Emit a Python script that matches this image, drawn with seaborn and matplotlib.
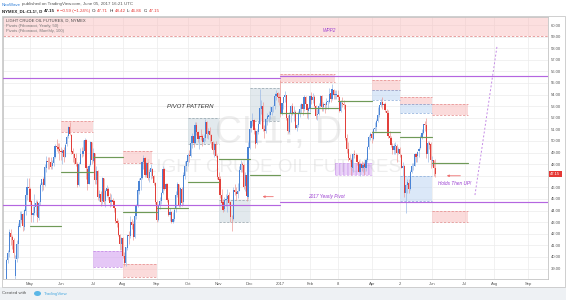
import numpy as np
import pandas as pd
import matplotlib
matplotlib.use("Agg")
import matplotlib.pyplot as plt
import matplotlib.transforms as mtransforms
from matplotlib.patches import Rectangle, Ellipse
import seaborn as sns

# ------------------------------------------------------------------ data
holidays = ["2016-05-30", "2016-07-04", "2016-09-05", "2016-11-24", "2016-12-26",
            "2017-01-02", "2017-01-16", "2017-02-20", "2017-04-14", "2017-05-29",
            "2017-07-04", "2017-09-04"]
first_day = "2016-04-04"
last_axis_day = "2017-09-29"

opens = [
    36.8, 35.6, 35.9, 37.7, 37.3, 39.7, 40.4, 42.1, 41.7, 41.5, 38.4, 39.8, 41.1, 42.6, 43.2, 43.7, 42.6, 44.0, 45.3, 46.0,
    45.9, 44.8, 43.6, 43.8, 44.3, 44.7, 43.4, 44.7, 46.2, 46.7, 46.2, 47.7, 48.3, 48.2, 48.2, 47.8, 48.1, 48.6, 49.6, 49.5, 49.3,
    49.1, 49.0, 49.2, 48.6, 49.7, 50.4, 51.2, 50.5, 49.1, 48.9, 48.5, 48.0, 46.2, 48.0, 48.9, 48.9, 49.1, 50.1, 47.6, 46.3, 47.9, 49.9,
    48.3, 49.0, 46.6, 47.4, 45.1, 45.4, 44.8, 46.8, 44.8, 45.7, 45.9, 45.2, 44.7, 44.9, 44.8, 44.2, 43.1, 42.9, 41.9, 41.1,
    41.6, 40.1, 39.5, 40.8, 41.9, 41.8, 43.0, 42.8, 41.7, 43.5, 44.5, 45.7, 46.6, 46.8, 48.2, 48.5, 47.1, 48.1, 46.8, 47.3, 47.6, 47.0, 46.4,
    44.7, 43.2, 44.4, 44.8, 45.5, 47.6, 45.9, 46.3, 44.9, 43.6, 43.9, 43.0, 43.3, 44.1, 45.3, 46.3, 44.5, 45.9, 44.7, 47.0, 47.8,
    48.2, 48.8, 48.7, 49.8, 50.4, 49.8, 51.4, 50.8, 50.2, 50.4, 50.4, 49.9, 50.3, 51.6, 50.6, 50.9, 50.5, 49.9, 49.2, 49.7, 48.7,
    46.9, 46.7, 45.3, 44.7, 44.1, 44.9, 45.0, 45.3, 44.7, 43.4, 43.3, 45.8, 45.6, 45.4, 45.7, 47.5, 48.0, 47.9, 46.1, 47.1, 45.2,
    49.4, 51.1, 51.7, 51.8, 50.9, 49.8, 50.8, 51.5, 52.8, 53.0, 51.0, 50.9, 51.9, 52.1, 52.2, 52.5, 53.0, 53.0, 53.9, 54.1, 53.8,
    53.8, 52.3, 53.3, 53.8, 54.0, 52.0, 50.8, 52.3, 53.0, 52.4, 52.5, 51.1, 51.4, 52.4, 52.8, 53.2, 52.8, 53.8, 53.2, 52.6,
    52.8, 53.9, 53.5, 53.8, 53.0, 52.2, 52.3, 53.0, 53.9, 52.9, 53.2, 53.1, 53.4, 53.4, 54.1, 53.6, 54.4, 54.0, 54.0,
    54.0, 53.8, 52.6, 53.3, 53.2, 53.1, 50.3, 49.3, 48.5, 48.4, 47.7, 48.9, 48.8, 48.8, 48.2, 47.3, 48.0, 47.7, 48.0, 47.7, 48.4, 49.5, 50.4,
    50.6, 50.2, 51.0, 51.2, 51.7, 52.2, 53.1, 53.4, 53.1, 53.2, 52.6, 52.4, 50.4, 50.3, 49.6, 49.2, 49.6, 49.6, 49.0,
    49.3, 48.8, 47.7, 47.8, 45.5, 46.2, 46.4, 45.9, 47.3, 47.8, 47.8, 48.9, 48.7, 49.1, 49.4, 50.3, 50.7, 51.5, 51.4, 48.9, 49.8, 49.7,
    48.3, 48.4, 47.71]
highs = [
    36.9, 36.3, 37.9, 38.1, 39.8, 40.6, 42.4, 42.4, 41.9, 41.6, 40.2, 41.5, 42.9, 44.0, 44.0, 43.8, 44.1, 45.5, 46.8, 46.8,
    46.0, 44.9, 44.4, 45.4, 44.9, 44.9, 44.8, 46.4, 46.5, 46.9, 48.0, 48.7, 48.6, 48.6, 48.6, 48.4, 48.8, 49.7, 50.2, 49.8, 49.8,
    49.5, 49.3, 49.5, 49.8, 50.5, 51.3, 51.67, 50.6, 49.4, 49.0, 49.0, 48.2, 48.2, 49.4, 49.5, 50.1, 50.3, 50.2, 47.8, 48.0, 50.0, 49.9,
    49.4, 49.0, 47.8, 47.5, 45.8, 45.7, 46.9, 46.8, 45.9, 46.2, 46.0, 45.5, 45.4, 45.1, 44.9, 44.2, 43.4, 43.2, 42.0, 41.7,
    41.7, 40.4, 40.9, 41.9, 42.2, 43.5, 43.3, 43.1, 43.6, 44.6, 45.9, 46.8, 47.0, 48.3, 48.75, 48.6, 48.2, 48.2, 47.6, 48.0, 47.7, 47.1, 46.5,
    44.9, 44.6, 45.2, 45.6, 47.8, 47.7, 46.4, 46.4, 45.1, 44.2, 44.0, 43.9, 44.2, 45.7, 46.5, 46.3, 46.0, 46.0, 47.3, 48.3, 48.3,
    49.0, 49.2, 49.9, 50.7, 50.7, 51.6, 51.6, 50.9, 50.5, 51.0, 50.6, 50.6, 51.9, 51.7, 51.1, 51.2, 50.6, 50.0, 49.9, 50.0, 48.9,
    47.3, 47.0, 45.9, 45.0, 45.2, 45.4, 45.9, 45.6, 44.8, 43.6, 46.0, 46.3, 46.0, 46.4, 47.8, 48.4, 48.2, 48.0, 47.3, 47.1, 49.9,
    51.5, 51.7, 52.4, 51.9, 51.1, 51.0, 51.7, 54.51, 53.5, 53.4, 51.4, 52.0, 52.4, 52.6, 53.0, 53.0, 53.1, 54.1, 54.4, 54.2, 54.1,
    55.24, 53.3, 53.8, 54.3, 54.0, 52.2, 52.5, 53.1, 53.3, 53.0, 52.7, 51.5, 52.6, 53.2, 53.3, 53.4, 54.0, 53.9, 53.2, 52.9,
    54.0, 54.2, 54.1, 54.0, 53.1, 52.8, 53.3, 54.0, 54.0, 53.4, 53.3, 53.7, 53.5, 54.6, 54.5, 54.9, 54.5, 54.4, 54.4,
    54.4, 53.9, 53.5, 53.8, 53.5, 53.2, 50.6, 49.9, 48.9, 48.5, 49.0, 49.2, 49.0, 48.9, 48.4, 48.0, 48.3, 48.2, 48.2, 48.5, 49.6, 50.5, 50.8,
    50.9, 51.1, 51.6, 51.9, 52.9, 53.1, 53.6, 53.76, 53.3, 53.4, 52.8, 52.7, 50.9, 50.4, 49.8, 49.8, 49.9, 49.7, 49.5,
    49.5, 48.9, 48.2, 47.9, 46.3, 46.7, 46.7, 47.5, 48.1, 48.1, 49.0, 49.0, 49.1, 49.5, 50.5, 51.0, 51.3, 51.7, 52.0, 50.0, 50.0, 49.9,
    48.7, 48.4, 48.42]
lows = [
    35.2, 35.2, 35.6, 36.9, 37.2, 39.5, 40.0, 41.0, 40.7, 39.9, 37.6, 39.6, 39.9, 42.6, 42.9, 42.2, 42.3, 43.6, 44.9, 45.6,
    44.5, 43.0, 43.0, 43.6, 43.6, 43.0, 43.2, 44.5, 45.7, 45.8, 46.1, 47.3, 47.6, 47.6, 47.6, 47.6, 47.8, 48.5, 49.1, 49.0, 48.4,
    48.4, 48.0, 48.2, 48.6, 49.6, 50.3, 50.5, 48.9, 48.2, 48.0, 47.8, 46.0, 46.1, 48.0, 48.6, 48.7, 48.9, 46.7, 45.8, 46.3, 47.8, 48.0,
    48.2, 46.3, 46.3, 44.9, 44.8, 44.4, 44.6, 44.6, 44.3, 45.2, 44.9, 44.3, 44.4, 44.3, 43.9, 42.9, 42.6, 41.8, 40.6, 40.6,
    39.9, 39.2, 39.2, 40.6, 41.1, 41.6, 42.4, 41.5, 41.6, 43.3, 44.3, 45.4, 45.8, 46.7, 47.6, 46.9, 46.9, 46.6, 46.5, 46.7, 46.8, 46.2, 44.6,
    43.0, 43.1, 44.1, 44.6, 45.4, 45.8, 45.0, 44.7, 43.5, 43.1, 42.9, 42.9, 43.1, 43.9, 45.2, 44.3, 44.3, 44.4, 44.5, 46.7, 47.4,
    47.8, 48.2, 48.6, 49.4, 49.5, 49.7, 50.5, 49.9, 49.3, 50.1, 49.6, 49.8, 50.0, 50.3, 50.2, 49.9, 49.4, 48.9, 48.6, 48.6, 46.7,
    46.3, 45.1, 44.5, 43.9, 44.0, 44.4, 43.9, 44.5, 43.0, 42.2, 43.2, 45.3, 44.9, 45.1, 45.7, 47.3, 47.3, 45.9, 45.7, 44.8, 45.0,
    49.3, 50.8, 51.3, 50.6, 49.4, 49.7, 50.6, 51.5, 52.3, 50.9, 50.3, 50.7, 51.4, 51.6, 51.9, 52.2, 52.5, 52.8, 53.5, 53.4, 53.1,
    52.1, 52.2, 52.8, 53.4, 51.8, 50.7, 50.7, 51.6, 52.2, 51.7, 51.0, 50.9, 51.2, 52.1, 52.4, 52.2, 52.6, 52.9, 52.0, 51.9,
    52.5, 53.2, 53.3, 52.9, 51.9, 51.8, 52.2, 52.9, 52.6, 52.6, 52.4, 52.8, 52.8, 53.3, 53.4, 53.5, 53.6, 53.6, 53.6,
    53.5, 52.5, 52.5, 52.9, 52.8, 50.1, 49.0, 48.3, 48.2, 47.1, 47.3, 48.5, 48.4, 47.9, 47.3, 47.0, 47.4, 47.3, 47.1, 47.4, 48.2, 49.3, 50.1,
    49.8, 50.1, 50.9, 50.9, 51.6, 52.1, 52.9, 52.8, 52.8, 52.5, 52.2, 50.3, 50.0, 49.5, 48.9, 48.9, 48.9, 48.2, 48.9,
    48.6, 47.7, 47.0, 45.2, 43.76, 45.5, 45.5, 45.8, 47.2, 47.5, 47.8, 48.2, 48.2, 48.6, 49.3, 50.2, 50.6, 50.9, 48.5, 48.2, 49.3, 47.7,
    47.8, 47.0, 46.86]
closes = [
    35.7, 35.9, 37.75, 37.26, 39.72, 40.36, 42.17, 41.76, 41.50, 40.36, 39.78, 41.08, 42.63, 43.18, 43.73, 42.64, 44.04, 45.33, 46.03, 45.92,
    44.78, 43.65, 43.78, 44.32, 44.66, 43.44, 44.66, 46.23, 46.70, 46.21, 47.72, 48.31, 48.19, 48.16, 47.75, 48.08, 48.62, 49.56, 49.48, 49.33, 49.10,
    49.01, 49.17, 48.62, 49.69, 50.36, 51.23, 50.56, 49.07, 48.88, 48.49, 48.01, 46.21, 47.98, 48.89, 48.85, 49.13, 50.11, 47.64, 46.33, 47.85, 49.88, 48.33,
    48.99, 46.60, 47.43, 45.14, 45.41, 44.76, 46.80, 44.75, 45.68, 45.95, 45.24, 44.65, 44.94, 44.75, 44.19, 43.13, 42.92, 41.92, 41.14, 41.60,
    40.06, 39.51, 40.83, 41.93, 41.80, 43.02, 42.77, 41.71, 43.49, 44.49, 45.74, 46.58, 46.79, 48.22, 48.52, 47.05, 48.10, 46.77, 47.33, 47.64, 46.98, 46.35, 44.70,
    43.16, 44.44, 44.83, 45.50, 47.62, 45.88, 46.29, 44.90, 43.58, 43.91, 43.03, 43.30, 44.05, 45.34, 46.32, 44.48, 45.93, 44.67, 47.05, 47.83, 48.24,
    48.81, 48.69, 49.83, 50.44, 49.81, 51.35, 50.79, 50.18, 50.44, 50.35, 49.94, 50.29, 51.60, 50.63, 50.85, 50.52, 49.96, 49.18, 49.72, 48.70, 46.86,
    46.67, 45.34, 44.66, 44.07, 44.89, 44.98, 45.27, 44.66, 43.41, 43.32, 45.81, 45.57, 45.42, 45.69, 47.49, 48.03, 47.96, 46.06, 47.08, 45.23, 49.44,
    51.06, 51.68, 51.79, 50.93, 49.77, 50.84, 51.50, 52.83, 52.98, 51.04, 50.90, 51.90, 52.12, 52.23, 52.49, 52.95, 53.02, 53.90, 54.06, 53.77, 53.72,
    52.33, 53.26, 53.76, 53.99, 51.96, 50.82, 52.25, 53.01, 52.37, 52.48, 51.08, 51.37, 52.42, 52.75, 53.18, 52.75, 53.78, 53.17, 52.63, 52.81,
    53.88, 53.54, 53.83, 53.01, 52.17, 52.34, 53.00, 53.86, 52.93, 53.20, 53.11, 53.36, 53.40, 54.06, 53.59, 54.45, 53.99, 54.05, 54.01,
    53.83, 52.61, 53.33, 53.20, 53.14, 50.28, 49.28, 48.49, 48.40, 47.72, 48.86, 48.75, 48.78, 48.22, 47.34, 48.04, 47.70, 47.97, 47.73, 48.37, 49.51, 50.35, 50.60,
    50.24, 51.03, 51.15, 51.70, 52.24, 53.08, 53.40, 53.11, 53.18, 52.65, 52.41, 50.44, 50.27, 49.62, 49.23, 49.56, 49.62, 48.97, 49.33,
    48.84, 47.66, 47.82, 45.52, 46.22, 46.43, 45.88, 47.33, 47.83, 47.84, 48.85, 48.66, 49.07, 49.35, 50.33, 50.73, 51.47, 51.36, 48.90, 49.80, 49.66, 48.32,
    48.36, 47.66, 47.15]

# monthly Fibonacci pivot (P) levels
pivot_starts = ["2016-05-01", "2016-06-01", "2016-07-01", "2016-08-01", "2016-09-01", "2016-10-01", "2016-11-01",
                "2016-12-01", "2017-01-01", "2017-02-01", "2017-03-01", "2017-04-01", "2017-05-01", "2017-06-01"]
pivot_ends = ["2016-06-01", "2016-07-01", "2016-08-01", "2016-09-01", "2016-10-01", "2016-11-01", "2016-12-01",
              "2017-01-01", "2017-02-01", "2017-03-01", "2017-04-01", "2017-05-01", "2017-06-01", "2017-07-06"]
pivot_levels = [42.65, 47.35, 48.6, 43.85, 44.2, 46.45, 48.45, 47.05, 52.45, 52.85, 53.45, 50.75, 50.35, 48.1]

# yearly Fibonacci pivots (P and R1)
year_starts = ["2016-04-01", "2017-01-01"]
year_ends = ["2017-01-01", "2017-09-30"]
year_p = [44.5, 44.77]
year_r1 = [55.43, 55.63]

# drawn zones
box_start = ["2016-06-01", "2016-07-01", "2016-08-01", "2016-08-01", "2016-10-01", "2016-11-01", "2016-12-01",
             "2017-01-01", "2017-02-27", "2017-04-01", "2017-04-01", "2017-05-01", "2017-05-01", "2017-05-01",
             "2017-06-01", "2017-06-01"]
box_end = ["2016-07-01", "2016-08-01", "2016-08-29", "2016-09-01", "2016-11-01", "2016-12-01", "2017-01-01",
           "2017-02-27", "2017-04-01", "2017-05-01", "2017-05-01", "2017-06-01", "2017-06-01", "2017-06-01",
           "2017-07-06", "2017-07-06"]
box_low = [50.8, 39.1, 48.1, 38.3, 49.7, 43.0, 51.7, 55.1, 47.1, 54.4, 53.5, 53.2, 52.4, 44.8, 52.2, 43.0]
box_high = [51.7, 40.5, 49.1, 39.4, 52.0, 44.9, 54.6, 55.8, 48.1, 55.3, 54.4, 53.8, 53.2, 47.0, 53.2, 44.0]
box_kind = ["pink", "purple", "pink", "pink", "gray", "gray", "gray", "pink", "hatch", "pink", "blue",
            "pink", "blue", "blue", "pink", "pink"]
top_zone_low = 59.05

month_labels = ["May", "Jun", "Jul", "Aug", "Sep", "Oct", "Nov", "Dec", "2017", "Feb", "8", "Apr", "2",
                "Jun", "Jul", "Aug", "Sep"]
month_firsts = ["2016-05-01", "2016-06-01", "2016-07-01", "2016-08-01", "2016-09-01", "2016-10-01", "2016-11-01",
                "2016-12-01", "2017-01-01", "2017-02-01", "2017-03-01", "2017-04-01", "2017-05-01", "2017-06-01",
                "2017-07-01", "2017-08-01", "2017-09-01"]
price_ticks = list(range(39, 61))
last_price = 47.15

# ------------------------------------------------------------------ style
sns.set_theme(style="white")
plt.rcParams["font.family"] = ["Liberation Sans", "DejaVu Sans"]

UP, DOWN = "#4a84d6", "#e2403b"
UPW, DNW = "#9dbbe6", "#ee9a96"
GREEN = "#6f9a58"
PURPLE = "#b466e0"
GRID = "#ececec"

W, H = 566, 300
fig = plt.figure(figsize=(W / 100, H / 100), dpi=100)
fig.patch.set_facecolor("white")
ax = fig.add_axes([3 / W, 1 - 279 / H, 545 / W, 262 / H])
ax.set_facecolor("white")

cal = pd.bdate_range(first_day, last_axis_day, freq="C", holidays=holidays)


def idx(d):
    return int(cal.searchsorted(pd.Timestamp(d)))


n = len(closes)
x = np.arange(n)
i_may = idx("2016-05-02")
i_sep = idx("2017-09-01")
s = (528 - 30) / (i_sep - i_may)
ax.set_xlim(i_may - 27 / s, i_may + 518 / s)
ax.set_ylim(38.10, 60.69)

# grid
tick_idx = [idx(m) for m in month_firsts]
for t in tick_idx:
    ax.axvline(t, color=GRID, lw=0.5, zorder=0)
for p in price_ticks:
    ax.axhline(p, color=GRID, lw=0.5, zorder=0)

# top zone
ax.axhspan(top_zone_low, 61, color="#f9b9b9", alpha=0.45, lw=0, zorder=1)
ax.axhline(top_zone_low, color="#e58f8f", lw=0.6, ls=(0, (3, 2)), zorder=1.5)

# boxes
fills = {"pink": ("#f9b9b9", 0.5, "#e58f8f"), "blue": ("#b9d2f2", 0.5, "#8fb0dc"),
         "gray": ("#bfd0d8", 0.45, "#9aa8b0"), "purple": ("#d4a3f0", 0.6, "#c48ae6"),
         "hatch": ("#ead3f8", 0.8, "#d7aef0")}
for b0, b1, lo, hi, k in zip(box_start, box_end, box_low, box_high, box_kind):
    x0, x1 = idx(b0), idx(b1)
    fc, al, ec = fills[k]
    if k == "hatch":
        r = Rectangle((x0, lo), x1 - x0, hi - lo, facecolor=fc, edgecolor=ec, hatch="||||", lw=0, zorder=1)
        ax.add_patch(r)
    else:
        ax.fill_between([x0, x1], [lo, lo], [hi, hi], color=fc, alpha=al, lw=0, zorder=1)
    ax.hlines([lo, hi], x0, x1, colors=ec, lw=0.55, linestyles=(0, (3, 2)), zorder=1.5)

# candles
o, h, l, c = map(np.array, (opens, highs, lows, closes))
up = c >= o
ax.vlines(x, l, h, colors=np.where(up, UPW, DNW), lw=0.5, zorder=3)
ax.bar(x, np.maximum(np.abs(c - o), 0.05), bottom=np.minimum(o, c), width=0.8,
       color=np.where(up, UP, DOWN), lw=0, zorder=4)

# monthly pivots (seaborn)
rows = []
for k, (a, b, lev) in enumerate(zip(pivot_starts, pivot_ends, pivot_levels)):
    rows.append(dict(seg=k, x=idx(a), y=lev))
    rows.append(dict(seg=k, x=idx(b), y=lev))
sns.lineplot(data=pd.DataFrame(rows), x="x", y="y", units="seg", estimator=None,
             color=GREEN, lw=0.85, ax=ax, zorder=5, legend=False)

# yearly pivots (seaborn)
yrows = []
for k, (a, b, p, r) in enumerate(zip(year_starts, year_ends, year_p, year_r1)):
    for lev, tag in ((p, "p"), (r, "r")):
        yrows.append(dict(seg=f"{k}{tag}", x=idx(a), y=lev))
        yrows.append(dict(seg=f"{k}{tag}", x=min(idx(b), len(cal) + 5), y=lev))
sns.lineplot(data=pd.DataFrame(yrows), x="x", y="y", units="seg", estimator=None,
             color=PURPLE, lw=0.85, ax=ax, zorder=5, legend=False)

ax.set_xlabel("")
ax.set_ylabel("")

# annotations
ax.annotate("", xy=(idx("2016-12-12"), 45.2), xytext=(idx("2016-12-28"), 45.2),
            arrowprops=dict(arrowstyle="-|>", color="#ef6f6f", lw=0.6, mutation_scale=3), zorder=6)
ax.annotate("", xy=(idx("2017-06-13"), 47.0), xytext=(idx("2017-06-30"), 47.0),
            arrowprops=dict(arrowstyle="-|>", color="#ef6f6f", lw=0.6, mutation_scale=3), zorder=6)
ax.plot([idx("2017-07-13"), idx("2017-08-03")], [45.34, 58.2], color="#c58be6", lw=0.7,
        ls=(0, (2, 2)), zorder=6)
ax.text(idx("2017-02-16"), 45.2, "2017 Yearly Pivot", color="#9b3fd1", fontsize=3.4,
        style="italic", ha="center", va="center", zorder=7)
ax.text(idx("2017-06-07"), 46.3, "Holds Then UP!", color="#9b3fd1", fontsize=3.4,
        style="italic", ha="left", va="center", zorder=7)
ax.text(idx("2016-10-05"), 52.95, "PIVOT PATTERN", color="#333333", fontsize=4.3,
        style="italic", ha="center", va="center", zorder=7)
ax.text(idx("2017-02-20"), 59.5, "WPP2", color="#9b3fd1", fontsize=3.4,
        style="italic", ha="center", va="center", zorder=7)

# watermark
ax.text(0.505, 0.557, "CL1!, D", transform=ax.transAxes, fontsize=27, color="#9a9a9a",
        alpha=0.16, ha="center", va="center", zorder=2)
ax.text(0.497, 0.424, "LIGHT CRUDE OIL FUTURES", transform=ax.transAxes, fontsize=13.5,
        color="#9a9a9a", alpha=0.16, ha="center", va="center", zorder=2)

# legend texts
ax.text(3 / 545, 1 - 3.5 / 262, "LIGHT CRUDE OIL FUTURES, D, NYMEX", transform=ax.transAxes,
        fontsize=3.0, color="#444444", ha="left", va="center", zorder=8)
ax.text(3 / 545, 1 - 8.5 / 262, "Pivots (Fibonacci, Yearly, 50)", transform=ax.transAxes,
        fontsize=3.0, color="#777777", ha="left", va="center", zorder=8)
ax.text(3 / 545, 1 - 14 / 262, "Pivots (Fibonacci, Monthly, 100)", transform=ax.transAxes,
        fontsize=3.0, color="#777777", ha="left", va="center", zorder=8)

# axes ticks (the 47.00 label is hidden behind the last-price tag, as in the source)
ax.set_xticks(tick_idx)
ax.set_xticklabels(month_labels)
ax.yaxis.tick_right()
ax.set_yticks(price_ticks)
ax.set_yticklabels(["" if abs(p - last_price) < 0.5 else f"{p:.2f}" for p in price_ticks])
ax.tick_params(axis="y", length=0, pad=2.2, labelsize=3.0, colors="#555555")
ax.tick_params(axis="x", length=0, pad=2.0, labelsize=3.0, colors="#555555")
for sp in ax.spines.values():
    sp.set_color("#c4c4c4")
    sp.set_linewidth(0.6)

trans = mtransforms.blended_transform_factory(ax.transAxes, ax.transData)
ax.text(1.0 + 2 / 545, last_price, f"{last_price:.2f}", transform=trans, fontsize=3.0,
        color="white", ha="left", va="center", zorder=9, clip_on=False,
        bbox=dict(boxstyle="square,pad=0.35", fc="#e53935", ec="none"))

# frame and footer
fig.patches.append(Rectangle((0, 0), 1, 13 / H, transform=fig.transFigure,
                             facecolor="#eef1f4", edgecolor="none", zorder=-1))
fig.patches.append(Rectangle((1.5 / W, 1 - 287 / H), 563 / W, 271 / H, transform=fig.transFigure,
                             facecolor="none", edgecolor="#c8c8c8", lw=0.6))

renderer = fig.canvas.get_renderer()


def text_row(xp, yp, chunks, gap=1.2):
    """Place text chunks one after another, measuring each one."""
    for s_, kw in chunks:
        t = fig.text(xp / W, 1 - yp / H, s_, va="center", ha="left", **kw)
        bb = t.get_window_extent(renderer=renderer)
        xp += bb.width + gap


FS = 3.2
text_row(2, 4.5, [("NeoWave", dict(fontsize=FS, color="#2f7fd8")),
                  ("published on TradingView.com, June 05, 2017 16:21 UTC", dict(fontsize=FS, color="#555555"))])
text_row(2, 11, [("NYMEX_DL:CL1!, D", dict(fontsize=FS, color="#222222", weight="bold")),
                 ("47.15", dict(fontsize=FS, color="#222222", weight="bold")),
                 ("▼", dict(fontsize=2.8, color="#e53935")),
                 ("−0.59 (−1.24%)", dict(fontsize=FS, color="#e53935")),
                 ("O:", dict(fontsize=FS, color="#222222")), ("47.71", dict(fontsize=FS, color="#e53935")),
                 ("H:", dict(fontsize=FS, color="#222222")), ("48.42", dict(fontsize=FS, color="#e53935")),
                 ("L:", dict(fontsize=FS, color="#222222")), ("46.86", dict(fontsize=FS, color="#e53935")),
                 ("C:", dict(fontsize=FS, color="#222222")), ("47.15", dict(fontsize=FS, color="#e53935"))],
         gap=1.0)

text_row(2, 293.5, [("Created with", dict(fontsize=FS, color="#555555"))])
fig.patches.append(Ellipse((37.5 / W, 1 - 293.5 / H), 7 / W, 5 / H, transform=fig.transFigure,
                           facecolor="#5ab6e6", edgecolor="none"))
text_row(44, 293.5, [("TradingView", dict(fontsize=FS, color="#4aa9e0"))])

fig.savefig("out.png", dpi=100)
